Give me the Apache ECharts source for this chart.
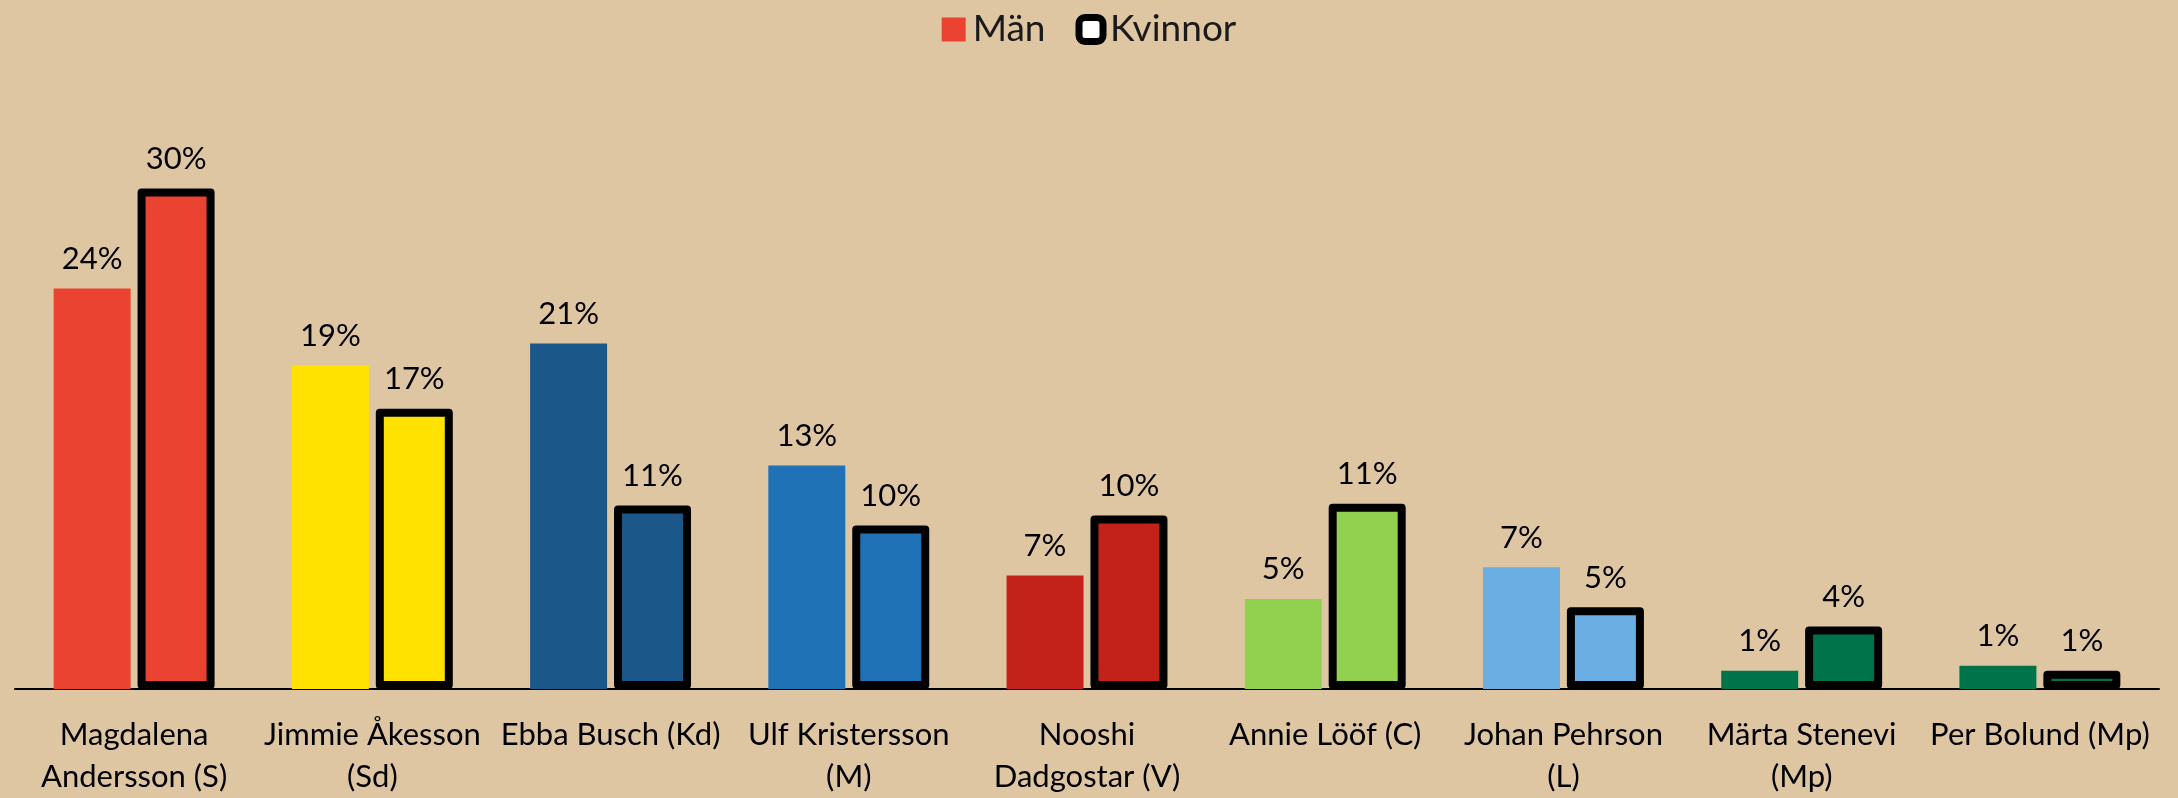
<!DOCTYPE html>
<html>
<head>
<meta charset="utf-8">
<script src="https://cdn.jsdelivr.net/npm/echarts@6/dist/echarts.min.js"></script>
<style>
html,body{margin:0;padding:0;background:#DFC6A3;}
#chart{width:2178px;height:798px;}
</style>
</head>
<body>
<div id="chart"></div>
<script>
const categories = [
  "Magdalena\nAndersson (S)",
  "Jimmie Åkesson\n(Sd)",
  "Ebba Busch (Kd)",
  "Ulf Kristersson\n(M)",
  "Nooshi\nDadgostar (V)",
  "Annie Lööf (C)",
  "Johan Pehrson\n(L)",
  "Märta Stenevi\n(Mp)",
  "Per Bolund (Mp)"
];
const manValues     = [24.0, 19.4, 20.7, 13.4, 6.8, 5.4, 7.3, 1.1, 1.4];
const kvinnorValues = [30.0, 16.8, 11.0, 9.8, 10.4, 11.1, 4.9, 3.75, 1.1];
const partyColors = ["#EA4331", "#FFE200", "#1B5789", "#1F72B6", "#C2221A", "#92D050", "#6AAEE3", "#00734A", "#00734A"];
const seriesNames = ["Män", "Kvinnor"];

const FONT = "Lato";
const chart = echarts.init(document.getElementById('chart'));
const pct = p => Math.round(p.value) + '%';

chart.setOption({
  backgroundColor: '#DFC6A3',
  animation: false,
  textStyle: { fontFamily: FONT },
  legend: {
    top: 6,
    left: 'center',
    itemWidth: 24,
    itemHeight: 24,
    itemGap: 30,
    textStyle: { fontFamily: FONT, fontSize: 37, color: '#1a1a1a', padding: [0, 0, 0, 2] },
    data: [
      { name: seriesNames[0], icon: 'rect', itemStyle: { color: partyColors[0], borderWidth: 0 } },
      { name: seriesNames[1], icon: 'roundRect', itemStyle: { color: '#ffffff', borderColor: '#000000', borderWidth: 7 } }
    ]
  },
  grid: { left: 15, right: 19, top: 105, bottom: 105, containLabel: false },
  xAxis: {
    type: 'category',
    data: categories,
    axisLine: { lineStyle: { color: '#000', width: 2 } },
    axisTick: { show: false },
    axisLabel: {
      interval: 0,
      color: '#000',
      fontFamily: FONT,
      fontSize: 31,
      lineHeight: 42,
      margin: 25
    }
  },
  yAxis: {
    type: 'value',
    min: 0,
    max: 35,
    show: false,
    splitLine: { show: false }
  },
  series: [
    {
      name: seriesNames[0],
      type: 'bar',
      barWidth: 77,
      barGap: '9%',
      itemStyle: { color: partyColors[0] },
      label: { show: true, position: 'top', distance: 14, color: '#000', fontFamily: FONT, fontSize: 31, formatter: pct },
      data: manValues.map((v, i) => ({ value: v, itemStyle: { color: partyColors[i] } }))
    },
    {
      name: seriesNames[1],
      type: 'bar',
      barWidth: 77,
      barGap: '9%',
      itemStyle: { color: '#ffffff', borderColor: '#000', borderWidth: 8, borderJoin: 'round' },
      label: { show: true, position: 'top', distance: 14, color: '#000', fontFamily: FONT, fontSize: 31, formatter: pct },
      data: kvinnorValues.map((v, i) => ({ value: v, itemStyle: { color: partyColors[i], borderColor: '#000', borderWidth: 8, borderJoin: 'round' } }))
    }
  ]
});
</script>
</body>
</html>
